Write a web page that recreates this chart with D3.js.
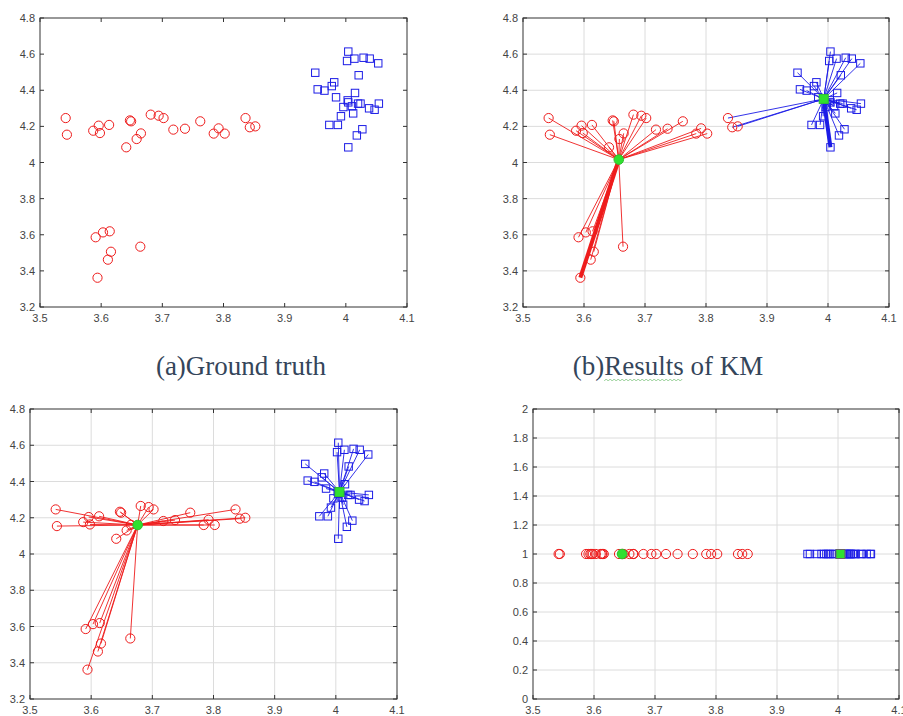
<!DOCTYPE html>
<html>
<head>
<meta charset="utf-8">
<script src="https://cdn.jsdelivr.net/npm/d3@7"></script>
<style>
  body { margin: 0; background: #fff; }
  svg { display: block; }
  .tick-label { font-family: "Liberation Sans", Arial, sans-serif; font-size: 11px; fill: #444; }
</style>
</head>
<body>
<div id="chart"></div>
<script>
// ground truth points
const redX = [3.542, 3.544, 3.587, 3.596, 3.598, 3.613, 3.647, 3.649, 3.641, 3.658,
              3.665, 3.681, 3.694, 3.702, 3.718, 3.737, 3.762, 3.784, 3.792, 3.802,
              3.836, 3.843, 3.852, 3.591, 3.603, 3.614, 3.616, 3.611, 3.594, 3.664];
const redY = [4.246, 4.154, 4.176, 4.204, 4.163, 4.208, 4.233, 4.228, 4.084, 4.130,
              4.161, 4.265, 4.259, 4.246, 4.182, 4.187, 4.228, 4.160, 4.189, 4.160,
              4.246, 4.195, 4.200, 3.586, 3.613, 3.619, 3.506, 3.462, 3.362, 3.534];
const blueX = [4.004, 4.002, 4.014, 4.029, 4.039, 4.053, 3.950, 4.021, 3.981, 3.977,
               3.954, 3.965, 4.015, 3.984, 4.003, 4.004, 3.996, 4.010, 4.020, 4.024,
               4.012, 4.038, 4.047, 4.054, 3.992, 3.973, 3.987, 4.027, 4.018, 4.004];
const blueY = [4.614, 4.562, 4.575, 4.580, 4.575, 4.549, 4.497, 4.483, 4.444, 4.423,
               4.405, 4.398, 4.385, 4.361, 4.344, 4.333, 4.307, 4.311, 4.326, 4.326,
               4.272, 4.300, 4.292, 4.326, 4.256, 4.208, 4.208, 4.184, 4.150, 4.084];

// red points that KM put in the blue cluster
const kmMoved = [20, 21, 22];

// centroids [red cluster, blue cluster]
const kmCentroids = [[3.657, 4.016], [3.993, 4.352]];
const gtCentroids = [[3.676, 4.160], [4.006, 4.342]];
const oneDCentroids = [3.646, 4.004];

const xTicks = [3.5, 3.6, 3.7, 3.8, 3.9, 4, 4.1];
const yTicks = [3.2, 3.4, 3.6, 3.8, 4, 4.2, 4.4, 4.6, 4.8];
const yTicks1D = [0, 0.2, 0.4, 0.6, 0.8, 1, 1.2, 1.4, 1.6, 1.8, 2];

const captions = ["(a)Ground truth", "(b)Results of KM"];

const width = 903, height = 716;
const RED = "#ee1c1c", BLUE = "#1c1ce6", GREEN = "#2fe02f";

const svg = d3.select("#chart").append("svg")
    .attr("width", width)
    .attr("height", height);

const fmt = d => String(+d.toFixed(1));

// build point list: {x, y, gt (0 red / 1 blue), km}
let points = [];
redX.forEach((x, i) => points.push({x: x, y: redY[i], gt: 0, km: kmMoved.includes(i) ? 1 : 0}));
blueX.forEach((x, i) => points.push({x: x, y: blueY[i], gt: 1, km: 1}));

function panel(box, yDomain, yT, grid) {
  const g = svg.append("g");
  const x = d3.scaleLinear().domain([3.5, 4.1]).range([box.left, box.right]);
  const y = d3.scaleLinear().domain(yDomain).range([box.bottom, box.top]);

  if (grid) {
    g.selectAll(".gx").data(xTicks.slice(1, -1)).enter().append("line")
      .attr("x1", d => x(d)).attr("x2", d => x(d))
      .attr("y1", box.top).attr("y2", box.bottom)
      .attr("stroke", "#dcdcdc").attr("stroke-width", 1);
    g.selectAll(".gy").data(yT.slice(1, -1)).enter().append("line")
      .attr("y1", d => y(d)).attr("y2", d => y(d))
      .attr("x1", box.left).attr("x2", box.right)
      .attr("stroke", "#dcdcdc").attr("stroke-width", 1);
  }

  // inward ticks on all sides
  const tl = 4;
  xTicks.forEach(t => {
    g.append("line").attr("x1", x(t)).attr("x2", x(t)).attr("y1", box.bottom).attr("y2", box.bottom - tl).attr("stroke", "#333");
    g.append("line").attr("x1", x(t)).attr("x2", x(t)).attr("y1", box.top).attr("y2", box.top + tl).attr("stroke", "#333");
  });
  yT.forEach(t => {
    g.append("line").attr("y1", y(t)).attr("y2", y(t)).attr("x1", box.left).attr("x2", box.left + tl).attr("stroke", "#333");
    g.append("line").attr("y1", y(t)).attr("y2", y(t)).attr("x1", box.right).attr("x2", box.right - tl).attr("stroke", "#333");
  });

  g.selectAll(".xl").data(xTicks).enter().append("text")
    .attr("class", "tick-label")
    .attr("x", d => x(d)).attr("y", box.bottom + 15)
    .attr("text-anchor", "middle")
    .text(fmt);
  g.selectAll(".yl").data(yT).enter().append("text")
    .attr("class", "tick-label")
    .attr("x", box.left - 5).attr("y", d => y(d) + 4)
    .attr("text-anchor", "end")
    .text(fmt);

  g.append("rect")
    .attr("x", box.left).attr("y", box.top)
    .attr("width", box.right - box.left).attr("height", box.bottom - box.top)
    .attr("fill", "none").attr("stroke", "#333").attr("stroke-width", 1);

  return {g, x, y};
}

function drawMarkers(p, pts, yOf) {
  p.g.selectAll(".c").data(pts.filter(d => d.gt === 0)).enter().append("circle")
    .attr("cx", d => p.x(d.x)).attr("cy", d => p.y(yOf(d)))
    .attr("r", 4.6)
    .attr("fill", "none").attr("stroke", RED).attr("stroke-width", 1);
  p.g.selectAll(".s").data(pts.filter(d => d.gt === 1)).enter().append("rect")
    .attr("x", d => p.x(d.x) - 3.7).attr("y", d => p.y(yOf(d)) - 3.7)
    .attr("width", 7.4).attr("height", 7.4)
    .attr("fill", "none").attr("stroke", BLUE).attr("stroke-width", 1);
}

function drawLinks(p, key, cents, thickFarthest) {
  const colors = [RED, BLUE];
  [0, 1].forEach(k => {
    const members = points.filter(d => d[key] === k);
    const c = cents[k];
    const far = d3.greatest(members, d => Math.hypot(d.x - c[0], d.y - c[1]));
    p.g.selectAll(".l" + k).data(members).enter().append("line")
      .attr("x1", d => p.x(d.x)).attr("y1", d => p.y(d.y))
      .attr("x2", p.x(c[0])).attr("y2", p.y(c[1]))
      .attr("stroke", colors[k])
      .attr("stroke-width", d => (thickFarthest && d === far) ? 4 : 0.9);
  });
}

function drawCentroids(p, cents, edge) {
  p.g.append("circle")
    .attr("cx", p.x(cents[0][0])).attr("cy", p.y(cents[0][1]))
    .attr("r", 4.8)
    .attr("fill", GREEN).attr("stroke", edge[0]).attr("stroke-width", 1);
  p.g.append("rect")
    .attr("x", p.x(cents[1][0]) - 4.5).attr("y", p.y(cents[1][1]) - 4.5)
    .attr("width", 9).attr("height", 9)
    .attr("fill", GREEN).attr("stroke", edge[1]).attr("stroke-width", 1);
}

// (a) ground truth
const pa = panel({left: 40, right: 407, top: 18, bottom: 307}, [3.2, 4.8], yTicks, false);
drawMarkers(pa, points, d => d.y);

// (b) KM
const pb = panel({left: 523, right: 889, top: 18, bottom: 307}, [3.2, 4.8], yTicks, true);
drawLinks(pb, "km", kmCentroids, true);
drawMarkers(pb, points, d => d.y);
drawCentroids(pb, kmCentroids, ["#2fbf2f", "#2fbf2f"]);

// (c)
const pc = panel({left: 30, right: 397, top: 409, bottom: 699}, [3.2, 4.8], yTicks, true);
drawLinks(pc, "gt", gtCentroids, false);
drawMarkers(pc, points, d => d.y);
drawCentroids(pc, gtCentroids, ["#2fbf2f", "#2fbf2f"]);

// (d) 1-D projection
const pd = panel({left: 533, right: 899, top: 409, bottom: 699}, [0, 2], yTicks1D, true);
drawMarkers(pd, points, d => 1);
drawCentroids(pd, [[oneDCentroids[0], 1], [oneDCentroids[1], 1]], ["#2fbf2f", "#666"]);

// captions
const capA = svg.append("text")
    .attr("font-family", "'Liberation Serif', 'DejaVu Serif', serif")
    .attr("font-size", 27).attr("fill", "#34455a")
    .attr("x", 241).attr("y", 375).attr("text-anchor", "middle")
    .text(captions[0]);
const capB = svg.append("text")
    .attr("font-family", "'Liberation Serif', 'DejaVu Serif', serif")
    .attr("font-size", 27).attr("fill", "#34455a")
    .attr("x", 668).attr("y", 375).attr("text-anchor", "middle")
    .text(captions[1]);

// spell-check squiggle under "Results"
const node = capB.node();
const sx = node.getStartPositionOfChar(3).x, ex = node.getEndPositionOfChar(9).x;
const wave = d3.range(sx, ex, 2).map((v, i) => [v, 380 + (i % 2 ? -1 : 1)]);
svg.append("path")
  .attr("d", d3.line()(wave))
  .attr("fill", "none").attr("stroke", "#7cc47c").attr("stroke-width", 0.8);
</script>
</body>
</html>
